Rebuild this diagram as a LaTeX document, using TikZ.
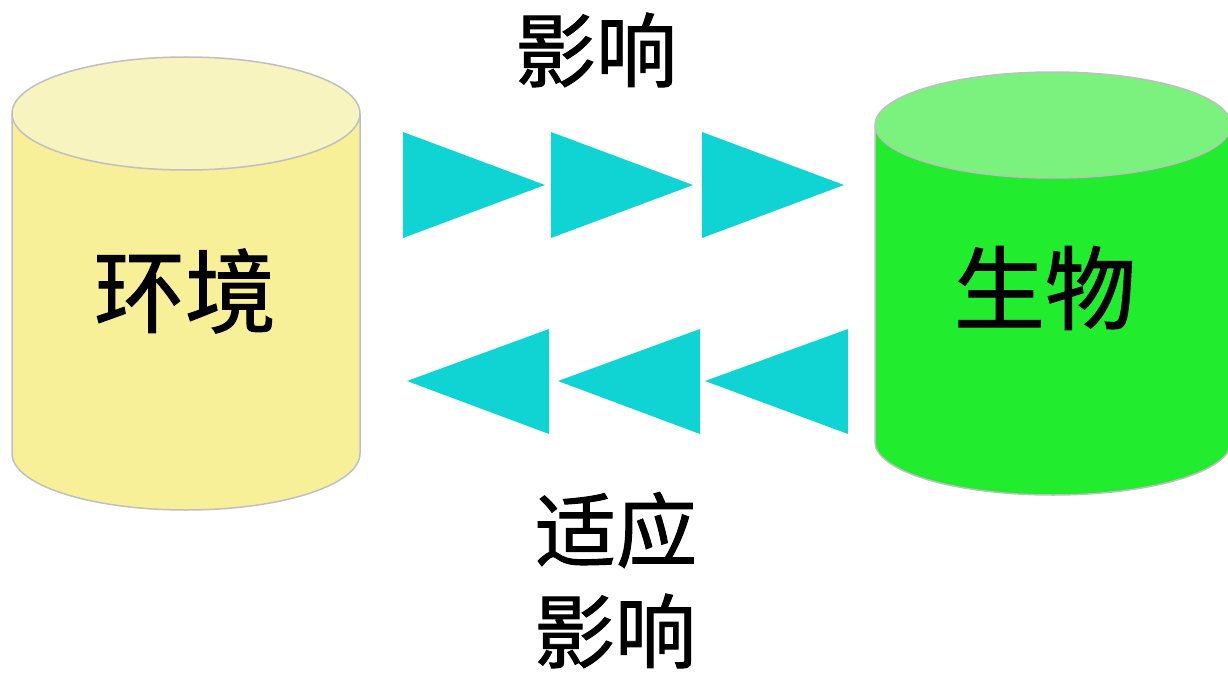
\documentclass[tikz,border=0pt]{standalone}
\usepackage{fontspec}
\newfontfamily\cjk[FakeBold=1.2]{Noto Sans CJK SC}
\definecolor{envbody}{HTML}{F8F098}
\definecolor{envtop}{HTML}{F7F4BF}
\definecolor{orgbody}{HTML}{22EC2E}
\definecolor{orgtop}{HTML}{7CF27E}
\definecolor{arrcol}{HTML}{10D4D4}
\definecolor{rimcol}{HTML}{BFBFBF}
\tikzset{
  tri/.style={fill=arrcol, draw=none},
  bigtxt/.style={inner sep=0pt, font=\cjk\fontsize{91}{91}\selectfont},
  lbltxt/.style={inner sep=0pt, font=\cjk\fontsize{81}{81}\selectfont},
  rim/.style={draw=rimcol, line width=1.5pt}
}
\begin{document}
\begin{tikzpicture}[x=1pt,y=-1pt]
\useasboundingbox (0,0) rectangle (1228,674);
\clip (0,0) rectangle (1228,674);
% left cylinder
\fill[envbody] (12,113.5) -- (12,453.5) arc[start angle=180,end angle=0,x radius=174,y radius=56.5] -- (360,113.5) -- cycle;
\draw[rim] (12,113.5) -- (12,453.5) arc[start angle=180,end angle=0,x radius=174,y radius=56.5] -- (360,113.5);
\filldraw[rim, fill=envtop] (186,113.5) ellipse[x radius=174, y radius=56.5];
% right cylinder
\fill[orgbody] (875,125) -- (875,442) arc[start angle=180,end angle=0,x radius=178,y radius=53] -- (1231,125) -- cycle;
\draw[rim] (875,125) -- (875,442) arc[start angle=180,end angle=0,x radius=178,y radius=53] -- (1231,125);
\filldraw[rim, fill=orgtop] (1053,125) ellipse[x radius=178, y radius=53];
% labels
\node[bigtxt] (env) at (185,291) {环境};
\node[bigtxt] (org) at (1045,288) {生物};
\node[lbltxt] (infl) at (596,50) {影响};
\node[lbltxt] (adapt) at (616,530) {适应};
\node[lbltxt] (infl2) at (615,631) {影响};
% arrows right
\fill[tri] (403,132) -- (545,185) -- (403,238) -- cycle;
\fill[tri] (551,132) -- (693,185) -- (551,238) -- cycle;
\fill[tri] (702,132) -- (844,185) -- (702,238) -- cycle;
% arrows left
\fill[tri] (549,329) -- (407,381) -- (549,434) -- cycle;
\fill[tri] (700,329) -- (558,381) -- (700,434) -- cycle;
\fill[tri] (848,329) -- (705,381) -- (848,434) -- cycle;
\end{tikzpicture}
\end{document}
